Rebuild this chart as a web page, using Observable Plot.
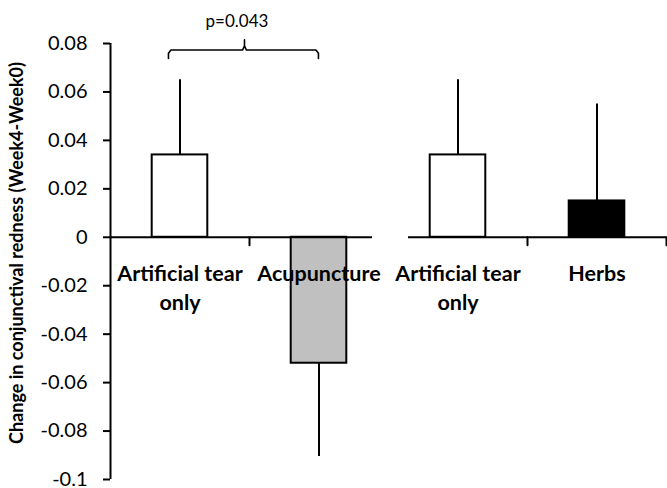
<!DOCTYPE html>
<html>
<head>
<meta charset="utf-8">
<script src="https://cdn.jsdelivr.net/npm/d3@7"></script>
<script src="https://cdn.jsdelivr.net/npm/@observablehq/plot@0.6"></script>
<style>
  html, body { margin: 0; padding: 0; background: #fff; }
  #chart svg { display: block; }
</style>
</head>
<body>
<div id="chart"></div>
<script>
// Groups shown left to right (two panels of two bars each)
const labels = ["Artificial tear\nonly", "Acupuncture", "Artificial tear\nonly", "Herbs"];
const treatments = ["Artificial tear", "Acupuncture", "Artificial tear", "Herbs"];
// Mean change in conjunctival redness (Week4 - Week0) and its error (SD)
const means = [0.034, -0.052, 0.034, 0.015];
const errors = [0.031, 0.0385, 0.031, 0.040];
// Y axis tick values
const yTicks = [0.08, 0.06, 0.04, 0.02, 0, -0.02, -0.04, -0.06, -0.08, -0.1];
const pLabel = "p=0.043";
const yTitle = "Change in conjunctival redness (Week4-Week0)";

const rows = means.map((m, i) => ({
  i, label: labels[i], treatment: treatments[i], mean: m, err: errors[i],
  tip: m >= 0 ? m + errors[i] : m - errors[i]
}));

// Brace joining the first two groups (x in group units, y in data units)
const brace = [
  [0.417, 0.0738], [0.417, 0.0760], [0.435, 0.0773],
  [0.950, 0.0773], [0.964, 0.0790], [0.964, 0.0815], [0.964, 0.0790],
  [0.978, 0.0773], [1.478, 0.0773], [1.496, 0.0760], [1.496, 0.0738]
];

const font = "Lato, 'Open Sans', sans-serif";

const chart = Plot.plot({
  width: 667,
  height: 488,
  marginLeft: 110,
  marginRight: 1,
  marginTop: 43,
  marginBottom: 9,
  style: { fontFamily: font, background: "#fff", color: "#000", overflow: "visible" },
  x: { domain: [0, 4], axis: null },
  y: { domain: [-0.1, 0.08], axis: null },
  color: {
    domain: ["Artificial tear", "Acupuncture", "Herbs"],
    range: ["#ffffff", "#c0c0c0", "#000000"]
  },
  marks: [
    // bars
    Plot.rectY(rows, {
      x1: d => d.i + 0.3, x2: d => d.i + 0.7, y1: 0, y2: "mean",
      fill: "treatment", stroke: "#000", strokeWidth: 2
    }),
    // one-sided error bars
    Plot.ruleX(rows, { x: d => d.i + 0.5, y1: "mean", y2: "tip", stroke: "#000", strokeWidth: 2 }),
    // zero baselines of the two panels
    Plot.ruleY([0], { x1: 0, x2: 1.885, stroke: "#000", strokeWidth: 2 }),
    Plot.ruleY([0], { x1: 2.144, x2: 4, stroke: "#000", strokeWidth: 2 }),
    // category tick marks on the baseline
    Plot.vector([1, 3, 4], {
      x: d => d, y: 0, length: 8, rotate: 180, anchor: "start",
      shape: { draw(ctx, l) { ctx.moveTo(0, 0); ctx.lineTo(0, -l); } },
      stroke: "#000", strokeWidth: 2
    }),
    // y axis
    Plot.ruleX([0], { y1: -0.1, y2: 0.08, stroke: "#000", strokeWidth: 2 }),
    Plot.axisY({
      ticks: yTicks,
      tickFormat: d => d === 0 ? "0" : String(d),
      tickSize: 7, tickPadding: 16, fontSize: 20, strokeWidth: 2, strokeOpacity: 1,
      label: null
    }),
    // y axis title
    Plot.text([yTitle], {
      frameAnchor: "left", rotate: -90, dx: -93, dy: -8.5,
      fontSize: 18, fontWeight: "bold", textAnchor: "middle", lineAnchor: "middle"
    }),
    // category labels
    Plot.text(rows, {
      x: d => d.i + 0.5, y: 0, text: "label", dy: 23,
      lineAnchor: "top", lineHeight: 1.36, fontSize: 21.5, fontWeight: "bold"
    }),
    // significance brace and label
    Plot.line(brace, { x: d => d[0], y: d => d[1], stroke: "#000", strokeWidth: 1.6, strokeLinejoin: "round" }),
    Plot.text([pLabel], { x: 0.91, frameAnchor: "top", dy: -21.7, fontSize: 17, lineAnchor: "middle" })
  ]
});

document.getElementById("chart").append(chart);
</script>
</body>
</html>
